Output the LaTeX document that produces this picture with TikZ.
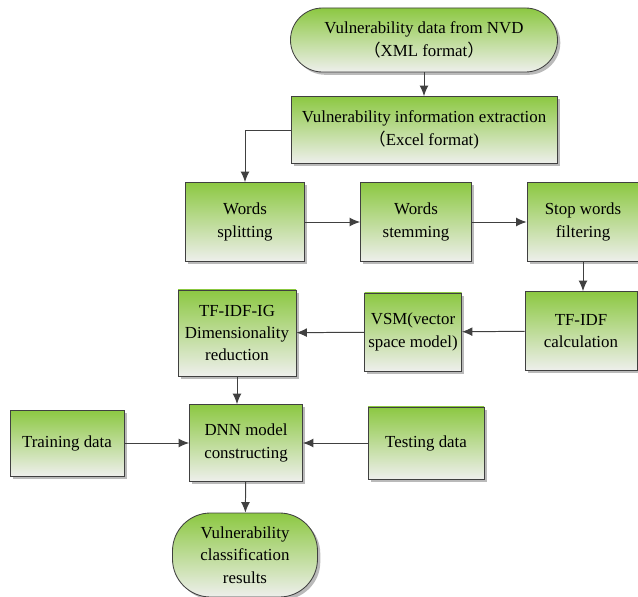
\documentclass[tikz,border=0pt]{standalone}
\usepackage{fontspec}
\setmainfont{Liberation Serif}
\newfontfamily\cjk{Noto Sans CJK SC}
\usetikzlibrary{arrows.meta,shadows}
\definecolor{boxgreen}{RGB}{140,200,66}
\definecolor{boxgray}{RGB}{238,239,236}
\definecolor{lineclr}{RGB}{64,64,64}
\begin{document}
\begin{tikzpicture}[
    font=\fontsize{12}{16}\selectfont,
    stepbox/.style={draw=lineclr, line width=.6pt, inner sep=0pt, align=center,
        top color=boxgreen, bottom color=boxgray,
        drop shadow={shadow xshift=2pt, shadow yshift=-2pt, fill=black!45, opacity=.6}},
    endbox/.style={stepbox, rounded corners=#1},
    flow/.style={draw=lineclr, line width=.7pt, -{Latex[length=2.6mm,width=2.2mm]}}
]
\useasboundingbox (0,0) rectangle (15.95,-14.925);

\node [endbox=.8cm, minimum width=6.675cm, minimum height=1.6cm]
    (nvd)     at (10.6  ,-1.0  ) {Vulnerability data from NVD\\{\cjk （}XML format{\cjk ）}};
\node [stepbox, minimum width=6.65cm, minimum height=1.675cm]
    (extract) at (10.6  ,-3.25 ) {Vulnerability information extraction\\{\cjk （}Excel format)};
\node [stepbox, minimum width=2.975cm, minimum height=1.975cm]
    (split)   at ( 6.125,-5.55 ) {Words\\splitting};
\node [stepbox, minimum width=2.775cm, minimum height=1.975cm]
    (stem)    at (10.4  ,-5.55 ) {Words\\stemming};
\node [stepbox, minimum width=2.8cm, minimum height=1.975cm]
    (stop)    at (14.575,-5.55 ) {Stop words\\filtering};
\node [stepbox, minimum width=2.8cm, minimum height=1.975cm]
    (tfidf)   at (14.525,-8.275) {TF-IDF\\calculation};
\node [stepbox, minimum width=2.425cm, minimum height=1.95cm]
    (vsm)     at (10.325,-8.3  ) {VSM(vector\\space model)};
\node [stepbox, minimum width=2.95cm, minimum height=2.15cm]
    (ig)      at ( 5.925,-8.325) {TF-IDF-IG\\Dimensionality\\reduction};
\node [stepbox, minimum width=2.825cm, minimum height=1.925cm]
    (dnn)     at ( 6.15 ,-11.075) {DNN model\\constructing};
\node [stepbox, minimum width=2.85cm, minimum height=1.65cm]
    (train)   at ( 1.675,-11.075) {Training data};
\node [stepbox, minimum width=2.9cm, minimum height=1.8cm]
    (test)    at (10.65 ,-11.075) {Testing data};
\node [endbox=.95cm, minimum width=3.625cm, minimum height=2.1cm]
    (result)  at ( 6.125,-13.875) {Vulnerability\\classification\\results};

\draw[flow] (nvd) -- (extract);
\draw[flow] (extract.west) -| (split.north);
\draw[flow] (split) -- (stem);
\draw[flow] (stem) -- (stop);
\draw[flow] (stop.south) -- (stop.south |- tfidf.north);
\draw[flow] (tfidf) -- (vsm);
\draw[flow] (vsm) -- (ig);
\draw[flow] (ig.south) -- (ig.south |- dnn.north);
\draw[flow] (train) -- (dnn);
\draw[flow] (test) -- (dnn);
\draw[flow] (dnn) -- (result);
\end{tikzpicture}
\end{document}
